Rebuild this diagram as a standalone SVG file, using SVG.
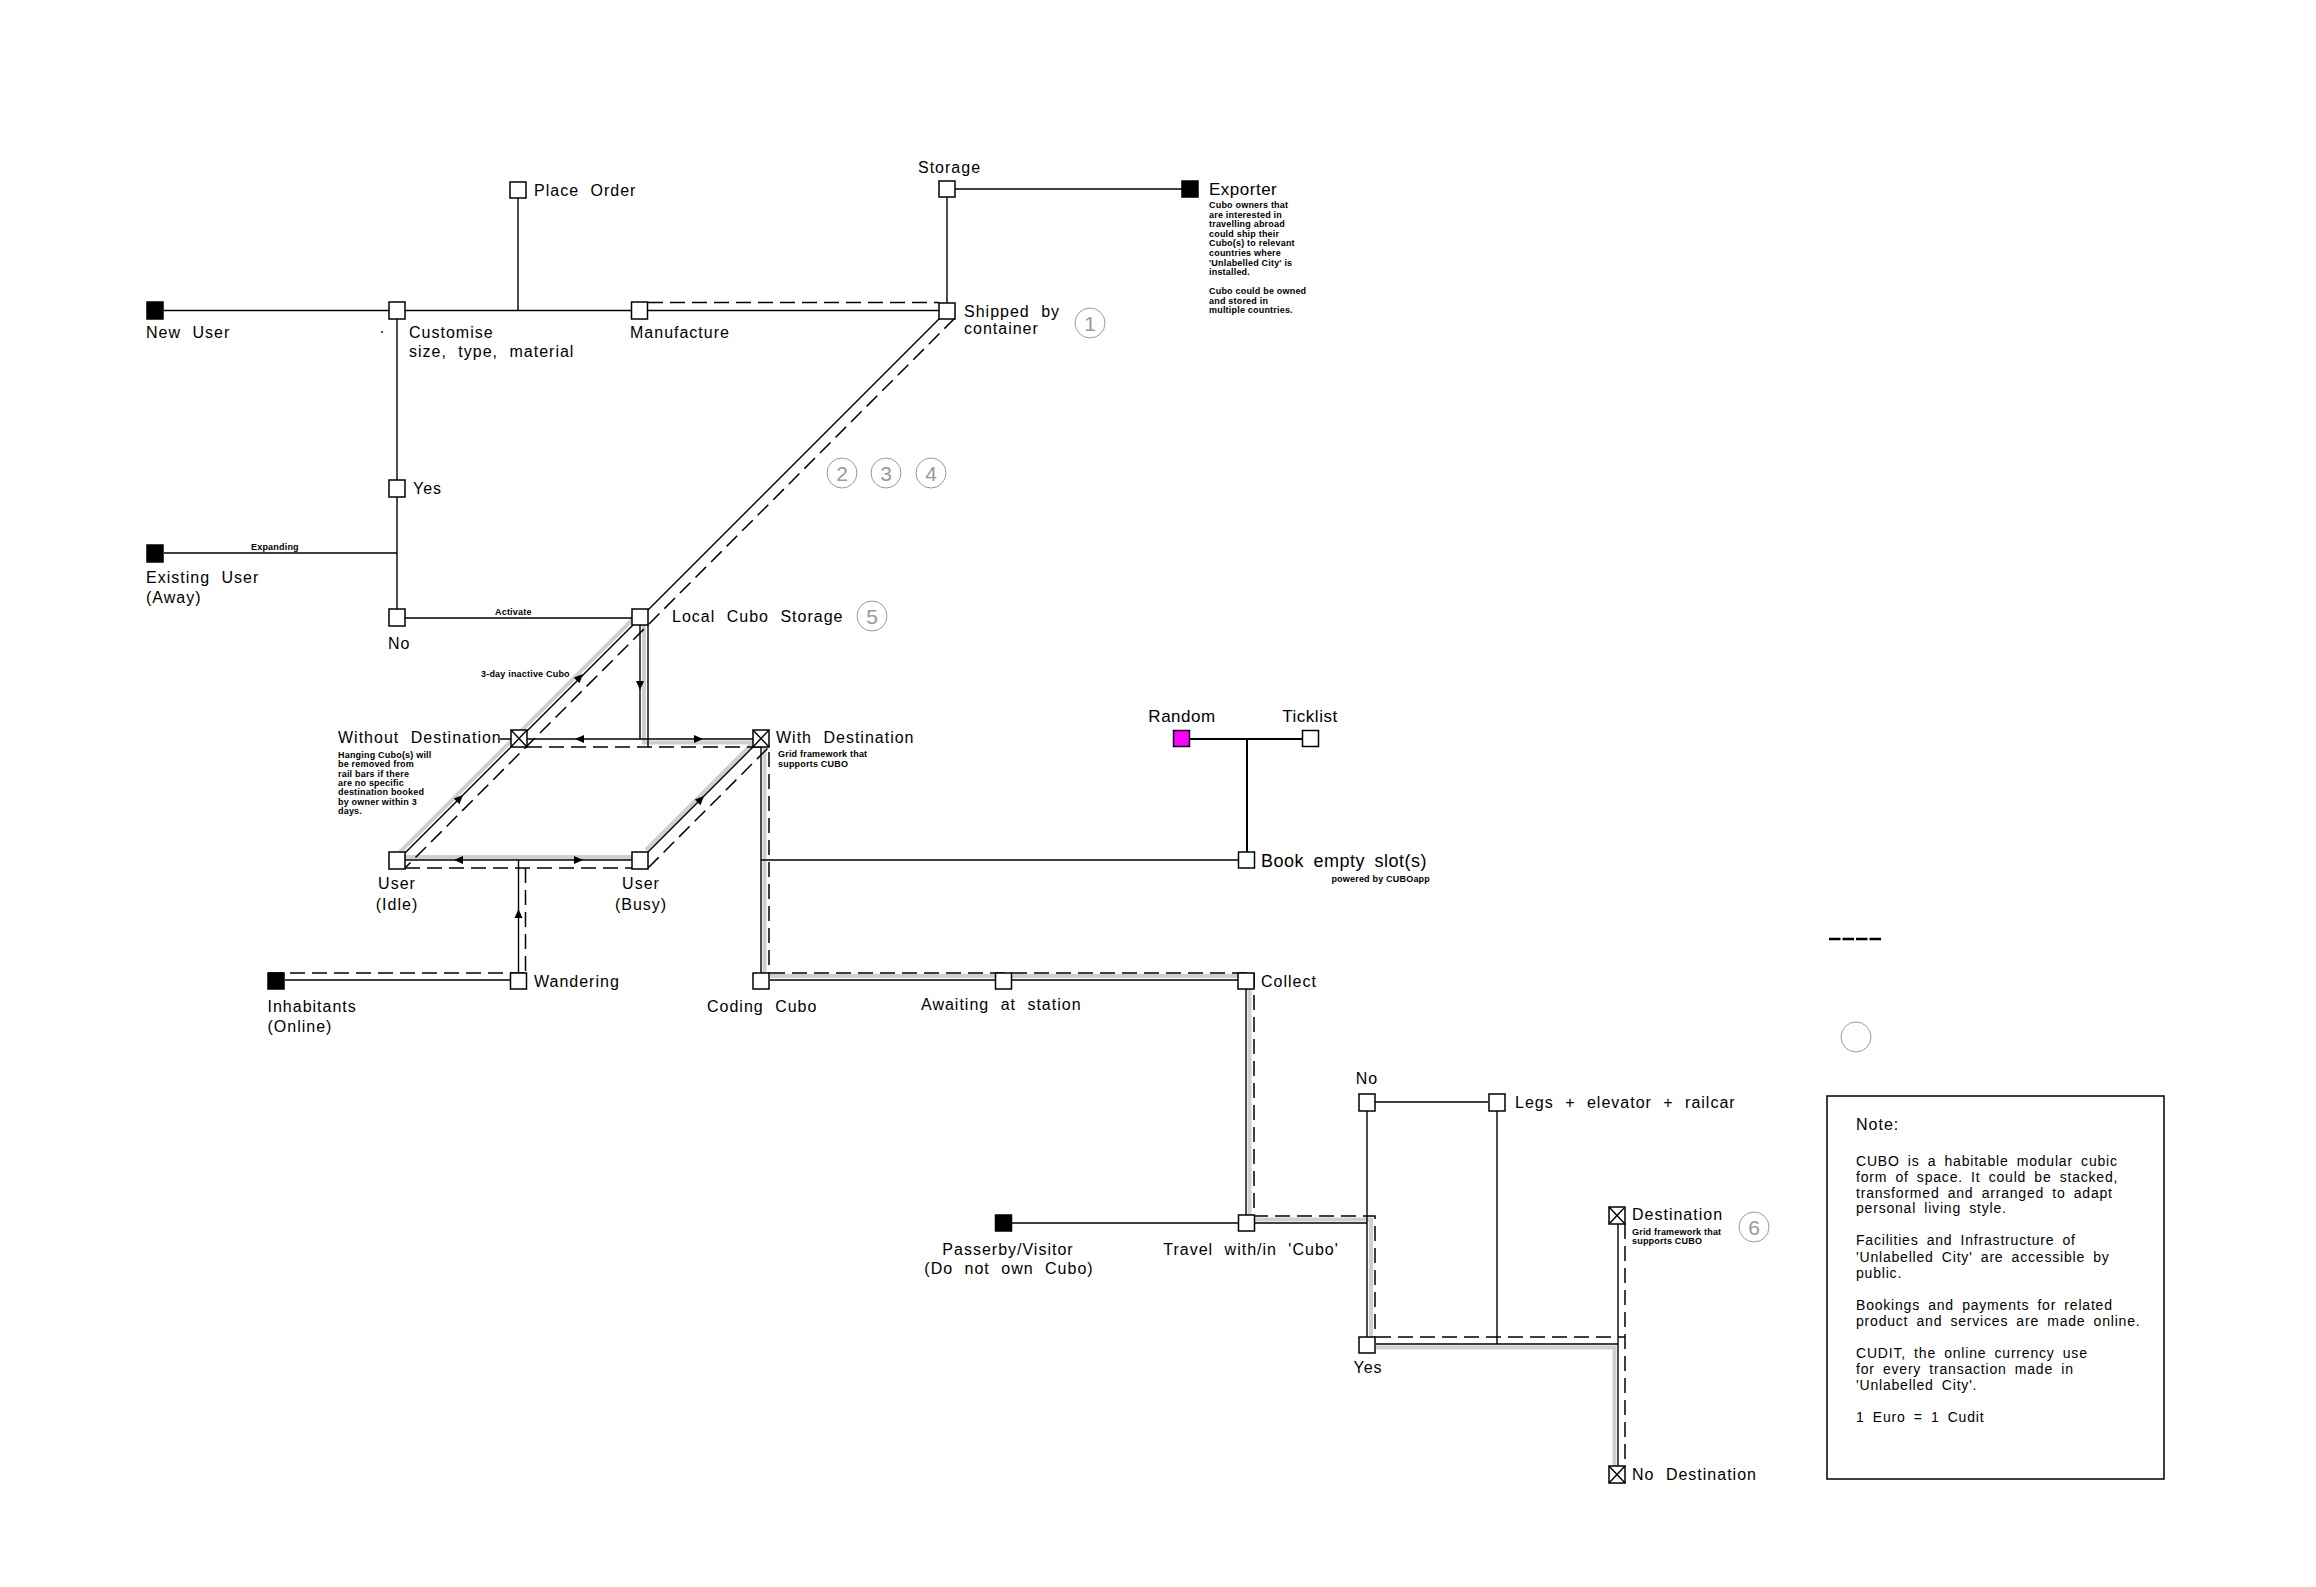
<svg xmlns="http://www.w3.org/2000/svg" xmlns:xlink="http://www.w3.org/1999/xlink" width="2316" height="1587" viewBox="0 0 2316 1587">
<style>
.n{fill:#fff;stroke:#000;stroke-width:1.5}
.f{fill:#000;stroke:#000;stroke-width:1.5}
.m{fill:#ff00ff;stroke:#000;stroke-width:1.5}
.ln{fill:none;stroke:#000;stroke-width:1.4}
.ds{fill:none;stroke:#000;stroke-width:1.5;stroke-dasharray:15 7}
.gr{fill:none;stroke:#cfcfcf;stroke-width:4}
.t{font-family:"Liberation Sans",Arial,sans-serif;font-size:16px;letter-spacing:1px;word-spacing:6px;fill:#000}
.b{font-family:"Liberation Sans",Arial,sans-serif;font-size:17px;letter-spacing:0.5px;word-spacing:4px;fill:#000}
.s{font-family:"Liberation Sans",Arial,sans-serif;font-size:9px;font-weight:bold;letter-spacing:0.2px;fill:#000}
.nt{font-family:"Liberation Sans",Arial,sans-serif;font-size:14px;letter-spacing:0.8px;word-spacing:3.5px;fill:#000}
.c{fill:none;stroke:#999;stroke-width:1}
.cn{font-family:"Liberation Sans",Arial,sans-serif;font-size:21px;fill:#999;text-anchor:middle}
.mid{text-anchor:middle}
</style>
<defs>
<path id="arr" d="M0,0 L-9,-4 L-9,4 Z" fill="#000"/>
<g id="xb"><rect class="n" x="-8" y="-8.5" width="16" height="17"/><path class="ln" d="M-8,-8.5 L8,8.5 M8,-8.5 L-8,8.5"/></g>
</defs>
<rect width="2316" height="1587" fill="#fff"/>

<g id="connectors">
  <path class="gr" d="M636,616 L400,852"/>
  <path class="gr" d="M646,850 L752,744"/>
  <path class="gr" d="M644,625 L644,742.5 L753,742.5"/>
  <path class="gr" d="M764.5,747 L764.5,976 L1238,976"/>
  <path class="gr" d="M405,857 L632,857"/>
  <path class="gr" d="M1249.5,989 L1249.5,1215"/>
  <path class="gr" d="M1254,1219.5 L1371,1219.5 L1371,1337"/>
  <path class="gr" d="M1376,1347.5 L1614.5,1347.5 L1614.5,1466"/>

  <path class="ln" d="M163,310.5 L939,310.5"/>
  <path class="ln" d="M518,198 L518,310.5"/>
  <path class="ln" d="M947,197 L947,303"/>
  <path class="ln" d="M955,189 L1182,189"/>
  <path class="ln" d="M397,319 L397,609"/>
  <path class="ln" d="M164,553 L397,553"/>
  <path class="ln" d="M405,618 L632,618"/>
  <path class="ln" d="M945,313 L405,853"/>
  <path class="ln" d="M640,625 L640,739"/>
  <path class="ln" d="M648,625 L648,747"/>
  <path class="ln" d="M500,739 L753,739"/>
  <path class="ln" d="M405,860 L632,860"/>
  <path class="ln" d="M518.5,860 L518.5,973"/>
  <path class="ln" d="M285,980 L510,980"/>
  <path class="ln" d="M648,852 L753,747"/>
  <path class="ln" d="M761,747 L761,973"/>
  <path class="ln" d="M761,860 L1238,860"/>
  <path class="ln" d="M1190,739 L1302,739" style="stroke-width:2"/>
  <path class="ln" d="M1247,739 L1247,852" style="stroke-width:2"/>
  <path class="ln" d="M770,980 L1238,980"/>
  <path class="ln" d="M1246,989 L1246,1215"/>
  <path class="ln" d="M1012,1223 L1239,1223"/>
  <path class="ln" d="M1254,1223 L1367,1223"/>
  <path class="ln" d="M1367,1111 L1367,1337"/>
  <path class="ln" d="M1375,1102 L1488,1102"/>
  <path class="ln" d="M1497,1111 L1497,1344"/>
  <path class="ln" d="M1376,1344 L1618,1344"/>
  <path class="ln" d="M1618,1224 L1618,1466"/>

  <path class="ds" d="M648,302.5 L939,302.5"/>
  <path class="ds" d="M955,318 L405,868"/>
  <path class="ds" d="M527,747 L769,747"/>
  <path class="ds" d="M648,868 L769,747 L769,973"/>
  <path class="ds" d="M405,868 L648,868"/>
  <path class="ds" d="M525.5,868 L525.5,973"/>
  <path class="ds" d="M268,973 L527,973"/>
  <path class="ds" d="M770,973 L1254,973 L1254,1216 L1375,1216 L1375,1337"/>
  <path class="ds" d="M1376,1337 L1625,1337"/>
  <path class="ds" d="M1625,1224 L1625,1466"/>

  <use xlink:href="#arr" href="#arr" transform="translate(583,674) rotate(-45)"/>
  <use xlink:href="#arr" href="#arr" transform="translate(463,795) rotate(-45)"/>
  <use xlink:href="#arr" href="#arr" transform="translate(704,796) rotate(-45)"/>
  <use xlink:href="#arr" href="#arr" transform="translate(640,690) rotate(90)"/>
  <use xlink:href="#arr" href="#arr" transform="translate(575,739) rotate(180)"/>
  <use xlink:href="#arr" href="#arr" transform="translate(703,739)"/>
  <use xlink:href="#arr" href="#arr" transform="translate(454,860) rotate(180)"/>
  <use xlink:href="#arr" href="#arr" transform="translate(583,860)"/>
  <use xlink:href="#arr" href="#arr" transform="translate(518.5,909) rotate(-90)"/>
</g>

<g id="n-newuser"><rect class="f" x="147" y="302" width="16" height="17"/><text class="t" x="146" y="338">New User</text></g>
<g id="n-customise"><rect class="n" x="389" y="302" width="16" height="17"/><text class="t" x="409" y="338">Customise</text><text class="t" x="409" y="357">size, type, material</text><circle cx="382" cy="332" r="0.9" fill="#000"/></g>
<g id="n-placeorder"><rect class="n" x="510" y="182" width="16" height="16"/><text class="t" x="534" y="196">Place Order</text></g>
<g id="n-manufacture"><rect class="n" x="631.5" y="302" width="16" height="17"/><text class="t" x="630" y="338">Manufacture</text></g>
<g id="n-storage"><rect class="n" x="939" y="181" width="16" height="16"/><text class="t" x="918" y="173">Storage</text></g>
<g id="n-shipped"><rect class="n" x="939" y="303" width="16" height="16"/><text class="t" x="964" y="317">Shipped by</text><text class="t" x="964" y="334">container</text></g>
<g id="n-exporter"><rect class="f" x="1182" y="181" width="16" height="16"/><text class="b" x="1209" y="195">Exporter</text>
<text class="s" x="1209" y="208">Cubo owners that</text>
<text class="s" x="1209" y="217.6">are interested in</text>
<text class="s" x="1209" y="227.2">travelling abroad</text>
<text class="s" x="1209" y="236.8">could ship their</text>
<text class="s" x="1209" y="246.4">Cubo(s) to relevant</text>
<text class="s" x="1209" y="256">countries where</text>
<text class="s" x="1209" y="265.6">'Unlabelled City' is</text>
<text class="s" x="1209" y="275.2">installed.</text>
<text class="s" x="1209" y="294">Cubo could be owned</text>
<text class="s" x="1209" y="303.6">and stored in</text>
<text class="s" x="1209" y="313.2">multiple countries.</text></g>
<g id="n-yes"><rect class="n" x="389" y="480" width="16" height="17"/><text class="t" x="413" y="494">Yes</text></g>
<g id="n-existing"><rect class="f" x="147" y="545" width="16" height="17"/><text class="t" x="146" y="583">Existing User</text><text class="t" x="146" y="603">(Away)</text><text class="s" x="251" y="550">Expanding</text></g>
<g id="n-no"><rect class="n" x="389" y="609" width="16" height="17"/><text class="t" x="388" y="649">No</text><text class="s" x="495" y="615">Activate</text></g>
<g id="n-local"><rect class="n" x="632" y="609" width="16" height="16"/><text class="t" x="672" y="622">Local Cubo Storage</text><text class="s" x="481" y="677">3-day inactive Cubo</text></g>
<g id="n-without"><use xlink:href="#xb" href="#xb" transform="translate(519,738.5)"/><text class="t" x="338" y="743">Without Destination</text>
<text class="s" x="338" y="758">Hanging Cubo(s) will</text>
<text class="s" x="338" y="767.3">be removed from</text>
<text class="s" x="338" y="776.6">rail bars if there</text>
<text class="s" x="338" y="785.9">are no specific</text>
<text class="s" x="338" y="795.2">destination booked</text>
<text class="s" x="338" y="804.5">by owner within 3</text>
<text class="s" x="338" y="813.8">days.</text></g>
<g id="n-with"><use xlink:href="#xb" href="#xb" transform="translate(761,738.5)"/><text class="t" x="776" y="743">With Destination</text><text class="s" x="778" y="757">Grid framework that</text><text class="s" x="778" y="766.5">supports CUBO</text></g>
<g id="n-idle"><rect class="n" x="389" y="852" width="16" height="17"/><text class="t mid" x="397" y="889">User</text><text class="t mid" x="397" y="910">(Idle)</text></g>
<g id="n-busy"><rect class="n" x="632" y="852" width="16" height="17"/><text class="t mid" x="641" y="889">User</text><text class="t mid" x="641" y="910">(Busy)</text></g>
<g id="n-inhabitants"><rect class="f" x="268" y="973" width="16" height="16"/><text class="t" x="267.5" y="1012">Inhabitants</text><text class="t" x="267.5" y="1032">(Online)</text></g>
<g id="n-wandering"><rect class="n" x="510.5" y="973" width="16" height="16"/><text class="t" x="534" y="987">Wandering</text></g>
<g id="n-coding"><rect class="n" x="753" y="973" width="16" height="16"/><text class="t" x="707" y="1012">Coding Cubo</text></g>
<g id="n-awaiting"><rect class="n" x="995.5" y="973" width="16" height="16"/><text class="t" x="921" y="1010">Awaiting at station</text></g>
<g id="n-collect"><rect class="n" x="1238" y="973" width="16" height="16"/><text class="t" x="1261" y="987">Collect</text></g>
<g id="n-random"><rect class="m" x="1173.5" y="730.5" width="16" height="16"/><text class="b mid" x="1182" y="722">Random</text></g>
<g id="n-ticklist"><rect class="n" x="1302.5" y="730.5" width="16" height="16"/><text class="b mid" x="1310" y="722">Ticklist</text></g>
<g id="n-book"><rect class="n" x="1238.5" y="852" width="16" height="16"/><text class="b" x="1261" y="867" style="font-size:18px">Book empty slot(s)</text><text class="s" x="1430" y="882" text-anchor="end">powered by CUBOapp</text></g>
<g id="n-no2"><rect class="n" x="1359" y="1094" width="16" height="17"/><text class="t mid" x="1367" y="1084">No</text></g>
<g id="n-legs"><rect class="n" x="1489" y="1094" width="16" height="17"/><text class="t" x="1515" y="1108">Legs + elevator + railcar</text></g>
<g id="n-passerby"><rect class="f" x="995.5" y="1215" width="16" height="16"/><text class="t mid" x="1008" y="1255">Passerby/Visitor</text><text class="t mid" x="1009" y="1274">(Do not own Cubo)</text></g>
<g id="n-travel"><rect class="n" x="1238.5" y="1215" width="16" height="16"/><text class="t mid" x="1251" y="1255">Travel with/in 'Cubo'</text></g>
<g id="n-yes2"><rect class="n" x="1359" y="1337" width="16" height="16"/><text class="t mid" x="1368" y="1373">Yes</text></g>
<g id="n-destination"><use xlink:href="#xb" href="#xb" transform="translate(1617,1215.5)"/><text class="t" x="1632" y="1220">Destination</text><text class="s" x="1632" y="1235">Grid framework that</text><text class="s" x="1632" y="1244">supports CUBO</text></g>
<g id="n-nodest"><use xlink:href="#xb" href="#xb" transform="translate(1617,1474.5)"/><text class="t" x="1632" y="1480">No Destination</text></g>

<g id="markers">
<circle class="c" cx="1090" cy="323" r="15"/><text class="cn" x="1090" y="330.5">1</text>
<circle class="c" cx="842" cy="473" r="15"/><text class="cn" x="842" y="480.5">2</text>
<circle class="c" cx="886" cy="473" r="15"/><text class="cn" x="886" y="480.5">3</text>
<circle class="c" cx="931" cy="473" r="15"/><text class="cn" x="931" y="480.5">4</text>
<circle class="c" cx="872" cy="616" r="15"/><text class="cn" x="872" y="623.5">5</text>
<circle class="c" cx="1754" cy="1227" r="15"/><text class="cn" x="1754" y="1234.5">6</text>
<circle class="c" cx="1856" cy="1037" r="15"/>
<path d="M1829,939 L1881,939" stroke="#000" stroke-width="2.5" stroke-dasharray="11.5 2" fill="none"/>
</g>

<g id="note">
<rect x="1827" y="1096" width="337" height="383" fill="#fff" stroke="#000" stroke-width="1.5"/>
<text class="t" x="1856" y="1130">Note:</text>
<text class="nt" x="1856" y="1166">CUBO is a habitable modular cubic</text>
<text class="nt" x="1856" y="1182">form of space. It could be stacked,</text>
<text class="nt" x="1856" y="1197.5">transformed and arranged to adapt</text>
<text class="nt" x="1856" y="1213">personal living style.</text>
<text class="nt" x="1856" y="1245">Facilities and Infrastructure of</text>
<text class="nt" x="1856" y="1262">'Unlabelled City' are accessible by</text>
<text class="nt" x="1856" y="1278">public.</text>
<text class="nt" x="1856" y="1310">Bookings and payments for related</text>
<text class="nt" x="1856" y="1326">product and services are made online.</text>
<text class="nt" x="1856" y="1358">CUDIT, the online currency use</text>
<text class="nt" x="1856" y="1373.5">for every transaction made in</text>
<text class="nt" x="1856" y="1390">'Unlabelled City'.</text>
<text class="nt" x="1856" y="1422">1 Euro = 1 Cudit</text>
</g>
</svg>
